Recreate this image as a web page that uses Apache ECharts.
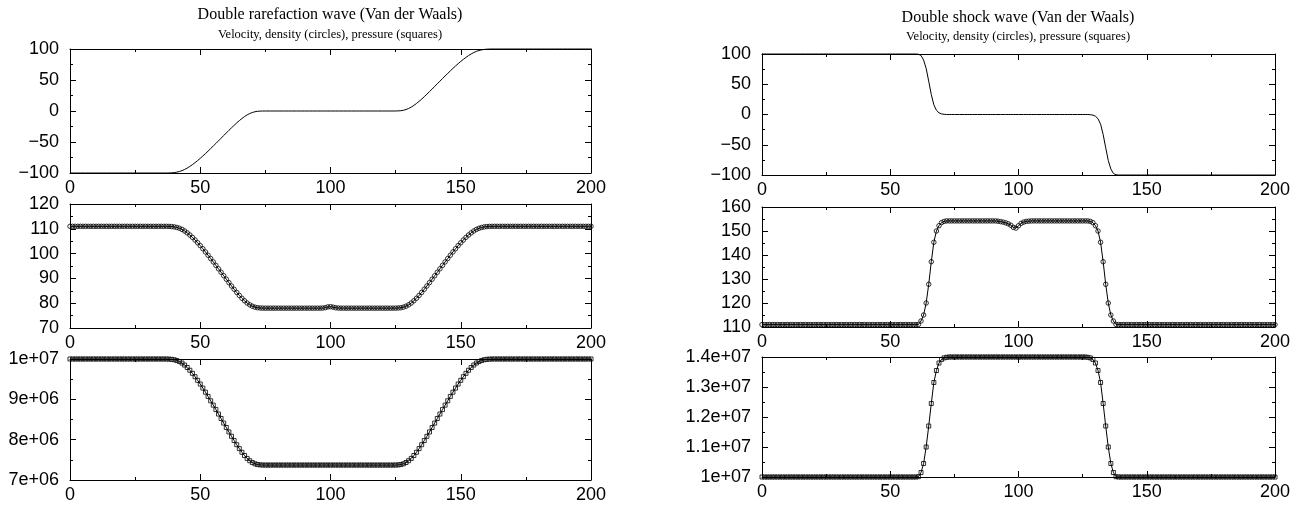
<!DOCTYPE html>
<html>
<head>
<meta charset="utf-8">
<script src="https://cdn.jsdelivr.net/npm/echarts@6/dist/echarts.min.js"></script>
<style>
html,body{margin:0;padding:0;background:#fff;}
#chart{width:1301px;height:508px;}
</style>
</head>
<body>
<div id="chart"></div>
<script>
// ---- Data (values per cell, cells 0..200) ----
// Double rarefaction wave: velocity
const rareVelocity = [
-100,-100,-100,-100,-100,-100,-100,-100,-100,-100,
-100,-100,-100,-100,-100,-100,-100,-100,-100,-100,
-100,-100,-100,-100,-100,-100,-100,-100,-100,-100,
-100,-100,-100,-100,-100,-100,-100,-100,
-99.9,-99.7,-99.3,-98.6,-97.6,-96.2,-94.3,-92,-89.4,-86.5,
-83.3,-79.9,-76.4,-72.6,-68.7,-64.7,-60.6,-56.5,-52.3,-48.1,
-43.9,-39.6,-35.4,-31.2,-27.1,-23.1,-19.2,-15.5,-12.1,-9,
-6.3,-4.1,-2.4,-1.2,-0.5,-0.2,-0.05,
0,0,0,0,0,0,0,0,0,0,
0,0,0,0,0,0,0,0,0,0,
0,0,0,0,0,0,0,0,0,0,
0,0,0,0,0,0,0,0,0,0,
0,0,0,0,0,0,0,0,0,0,
0.05,0.2,0.5,1.2,2.4,4.1,6.3,
9,12.1,15.5,19.2,23.1,27.1,31.2,35.4,39.6,43.9,
48.1,52.3,56.5,60.6,64.7,68.7,72.6,76.4,79.9,83.3,
86.5,89.4,92,94.3,96.2,97.6,98.6,99.3,99.7,99.9,
100,100,100,100,100,100,100,100,100,100,
100,100,100,100,100,100,100,100,100,100,
100,100,100,100,100,100,100,100,100,100,
100,100,100,100,100,100,100,100,100
];
// Double rarefaction wave: density (circles)
const rareDensity = [
111,111,111,111,111,111,111,111,111,111,
111,111,111,111,111,111,111,111,111,111,
111,111,111,111,111,111,111,111,111,111,
111,111,111,111,111,111,111,111,
110.97,110.9,110.77,110.54,110.21,109.75,109.12,108.36,107.5,106.55,
105.49,104.37,103.21,101.96,100.67,99.35,98,96.65,95.26,93.87,
92.49,91.07,89.68,88.3,86.94,85.62,84.34,83.12,81.99,80.97,
80.08,79.35,78.79,78.4,78.17,78.07,78.02,
78,78,78,78,78,78,78,78,78,78,
78,78,78,78,78,78,78,78,78,78,
78,78,
78.05,78.2,78.5,78.6,78.4,78.15,78.05,
78,78,78,78,78,78,78,78,78,78,
78,78,78,78,78,78,78,78,78,78,
78,
78.02,78.07,78.17,78.4,78.79,79.35,80.08,
80.97,81.99,83.12,84.34,85.62,86.94,88.3,89.68,91.07,92.49,
93.87,95.26,96.65,98,99.35,100.67,101.96,103.21,104.37,105.49,
106.55,107.5,108.36,109.12,109.75,110.21,110.54,110.77,110.9,110.97,
111,111,111,111,111,111,111,111,111,111,
111,111,111,111,111,111,111,111,111,111,
111,111,111,111,111,111,111,111,111,111,
111,111,111,111,111,111,111,111,111
];
// Double rarefaction wave: pressure (squares)
const rarePressure = [
1e7,1e7,1e7,1e7,1e7,1e7,1e7,1e7,1e7,1e7,
1e7,1e7,1e7,1e7,1e7,1e7,1e7,1e7,1e7,1e7,
1e7,1e7,1e7,1e7,1e7,1e7,1e7,1e7,1e7,1e7,
1e7,1e7,1e7,1e7,1e7,1e7,1e7,1e7,
9.997e6,9.992e6,9.982e6,9.963e6,9.937e6,9.9e6,9.85e6,9.79e6,9.721e6,9.645e6,
9.561e6,9.471e6,9.379e6,9.279e6,9.177e6,9.072e6,8.964e6,8.856e6,8.746e6,8.635e6,
8.525e6,8.411e6,8.301e6,8.191e6,8.083e6,7.978e6,7.875e6,7.778e6,7.688e6,7.607e6,
7.536e6,7.478e6,7.433e6,7.402e6,7.383e6,7.375e6,7.371e6,
7.37e6,7.37e6,7.37e6,7.37e6,7.37e6,7.37e6,7.37e6,7.37e6,7.37e6,7.37e6,
7.37e6,7.37e6,7.37e6,7.37e6,7.37e6,7.37e6,7.37e6,7.37e6,7.37e6,7.37e6,
7.37e6,7.37e6,7.37e6,7.37e6,7.37e6,7.37e6,7.37e6,7.37e6,7.37e6,7.37e6,
7.37e6,7.37e6,7.37e6,7.37e6,7.37e6,7.37e6,7.37e6,7.37e6,7.37e6,7.37e6,
7.37e6,7.37e6,7.37e6,7.37e6,7.37e6,7.37e6,7.37e6,7.37e6,7.37e6,7.37e6,
7.371e6,7.375e6,7.383e6,7.402e6,7.433e6,7.478e6,7.536e6,
7.607e6,7.688e6,7.778e6,7.875e6,7.978e6,8.083e6,8.191e6,8.301e6,8.411e6,8.525e6,
8.635e6,8.746e6,8.856e6,8.964e6,9.072e6,9.177e6,9.279e6,9.379e6,9.471e6,9.561e6,
9.645e6,9.721e6,9.79e6,9.85e6,9.9e6,9.937e6,9.963e6,9.982e6,9.992e6,9.997e6,
1e7,1e7,1e7,1e7,1e7,1e7,1e7,1e7,1e7,1e7,
1e7,1e7,1e7,1e7,1e7,1e7,1e7,1e7,1e7,1e7,
1e7,1e7,1e7,1e7,1e7,1e7,1e7,1e7,1e7,1e7,
1e7,1e7,1e7,1e7,1e7,1e7,1e7,1e7,1e7
];
// Double shock wave: velocity
const shockVelocity = [
100,100,100,100,100,100,100,100,100,100,
100,100,100,100,100,100,100,100,100,100,
100,100,100,100,100,100,100,100,100,100,
100,100,100,100,100,100,100,100,100,100,
100,100,100,100,100,100,100,100,100,100,
100,100,100,100,100,100,100,100,100,100,
100,
99.6,97.5,90,76,55,33,16,7,2.8,1,0.3,
0,0,0,0,0,0,0,0,0,0,
0,0,0,0,0,0,0,0,0,0,
0,0,0,0,0,0,0,0,0,0,
0,0,0,0,0,0,0,0,0,0,
0,0,0,0,0,0,0,0,0,0,
0,0,0,0,0,0,
-0.3,-1,-2.8,-7,-16,-33,-55,-76,-90,-97.5,-99.6,
-100,-100,-100,-100,-100,-100,-100,-100,-100,-100,
-100,-100,-100,-100,-100,-100,-100,-100,-100,-100,
-100,-100,-100,-100,-100,-100,-100,-100,-100,-100,
-100,-100,-100,-100,-100,-100,-100,-100,-100,-100,
-100,-100,-100,-100,-100,-100,-100,-100,-100,-100,
-100,-100,-100,-100,-100,-100,-100,-100,-100,-100,
-100,-100
];
// Double shock wave: density (circles)
const shockDensity = [
111,111,111,111,111,111,111,111,111,111,
111,111,111,111,111,111,111,111,111,111,
111,111,111,111,111,111,111,111,111,111,
111,111,111,111,111,111,111,111,111,111,
111,111,111,111,111,111,111,111,111,111,
111,111,111,111,111,111,111,111,111,111,
111,
111.1,112.5,115,120,127.8,137.2,145.3,150,152.2,153.5,154,
154.2,154.2,154.2,154.2,154.2,154.2,154.2,154.2,154.2,154.2,
154.2,154.2,154.2,154.2,154.2,154.2,154.2,154.2,154.2,154.2,
154.1,153.9,153.7,153.4,153,152.4,151.5,151.2,152.2,153.2,153.7,154,154.1,
154.2,154.2,154.2,154.2,154.2,154.2,154.2,154.2,154.2,154.2,
154.2,154.2,154.2,154.2,154.2,154.2,154.2,154.2,154.2,154.2,
154.2,154.2,154.2,
154,153.5,152.2,150,145.3,137.2,127.8,120,115,112.5,111.1,
111,111,111,111,111,111,111,111,111,111,
111,111,111,111,111,111,111,111,111,111,
111,111,111,111,111,111,111,111,111,111,
111,111,111,111,111,111,111,111,111,111,
111,111,111,111,111,111,111,111,111,111,
111,111,111,111,111,111,111,111,111,111,
111,111
];
// Double shock wave: pressure (squares)
const shockPressure = [
1e7,1e7,1e7,1e7,1e7,1e7,1e7,1e7,1e7,1e7,
1e7,1e7,1e7,1e7,1e7,1e7,1e7,1e7,1e7,1e7,
1e7,1e7,1e7,1e7,1e7,1e7,1e7,1e7,1e7,1e7,
1e7,1e7,1e7,1e7,1e7,1e7,1e7,1e7,1e7,1e7,
1e7,1e7,1e7,1e7,1e7,1e7,1e7,1e7,1e7,1e7,
1e7,1e7,1e7,1e7,1e7,1e7,1e7,1e7,1e7,1e7,
1e7,
1.001e7,1.015e7,1.045e7,1.1e7,1.17e7,1.245e7,1.315e7,1.355e7,1.38e7,1.392e7,1.397e7,1.399e7,
1.4e7,1.4e7,1.4e7,1.4e7,1.4e7,1.4e7,1.4e7,1.4e7,1.4e7,1.4e7,
1.4e7,1.4e7,1.4e7,1.4e7,1.4e7,1.4e7,1.4e7,1.4e7,1.4e7,1.4e7,
1.4e7,1.4e7,1.4e7,1.4e7,1.4e7,1.4e7,1.4e7,1.4e7,1.4e7,1.4e7,
1.4e7,1.4e7,1.4e7,1.4e7,1.4e7,1.4e7,1.4e7,1.4e7,1.4e7,1.4e7,
1.4e7,1.4e7,1.4e7,1.4e7,1.4e7,1.4e7,1.4e7,1.4e7,1.4e7,1.4e7,
1.4e7,1.4e7,1.4e7,1.4e7,
1.399e7,1.397e7,1.392e7,1.38e7,1.355e7,1.315e7,1.245e7,1.17e7,1.1e7,1.045e7,1.015e7,1.001e7,
1e7,1e7,1e7,1e7,1e7,1e7,1e7,1e7,1e7,1e7,
1e7,1e7,1e7,1e7,1e7,1e7,1e7,1e7,1e7,1e7,
1e7,1e7,1e7,1e7,1e7,1e7,1e7,1e7,1e7,1e7,
1e7,1e7,1e7,1e7,1e7,1e7,1e7,1e7,1e7,1e7,
1e7,1e7,1e7,1e7,1e7,1e7,1e7,1e7,1e7,1e7,
1e7,1e7,1e7,1e7,1e7,1e7,1e7,1e7,1e7,1e7,
1e7,1e7
];
// Axis ranges / ticks
const xRange = [0, 200, 50];
const velRange = [-100, 100, 50];
const rareDensRange = [70, 120, 10];
const rarePresRange = [7e6, 1e7, 1e6];
const shockDensRange = [110, 160, 10];
const shockPresRange = [1e7, 1.4e7, 1e6];
const titles = {
  left: 'Double rarefaction wave (Van der Waals)',
  right: 'Double shock wave (Van der Waals)',
  sub: 'Velocity, density (circles), pressure (squares)'
};

// ---- Build chart ----
const SANS = "'Liberation Sans', Arial, Helvetica, sans-serif";
const SERIF = "'Liberation Serif', 'Times New Roman', serif";

function fmtPlain(v){ return String(v).replace('-', '\u2212'); }
function fmtExp(v){
  const s = Number(v).toExponential();
  return s.replace(/e([+-])(\d+)$/, function(m, sg, d){ return 'e' + sg + (d.length < 2 ? '0' + d : d); });
}

const grids = [
  {left:70, top:49, width:521, height:124},
  {left:70, top:204, width:521, height:124},
  {left:70, top:359, width:521, height:121},
  {left:762, top:54, width:513, height:121},
  {left:762, top:207, width:513, height:120},
  {left:762, top:357, width:513, height:120}
];

const xAxes = [], yAxes = [], series = [];
const lineCol = '#000';

function addPanel(gi, yr, fmt){
  const common = {
    type:'value', gridIndex:gi,
    axisLine:{show:true, onZero:false, lineStyle:{color:lineCol, width:1}},
    axisTick:{show:true, inside:true, length:6, lineStyle:{color:lineCol, width:1}},
    minorTick:{show:true, splitNumber:2, length:3, lineStyle:{color:lineCol, width:1}},
    splitLine:{show:false}, minorSplitLine:{show:false}
  };
  xAxes.push(Object.assign({}, common, {
    position:'bottom', min:xRange[0], max:xRange[1], interval:xRange[2],
    axisLabel:{show:true, margin:6, color:'#000', fontSize:18, fontFamily:SANS, showMinLabel:true, showMaxLabel:true}
  }));
  xAxes.push(Object.assign({}, common, {
    position:'top', min:xRange[0], max:xRange[1], interval:xRange[2],
    axisLabel:{show:false}
  }));
  yAxes.push(Object.assign({}, common, {
    position:'left', min:yr[0], max:yr[1], interval:yr[2],
    axisLabel:{show:true, margin:11, color:'#000', fontSize:18, fontFamily:SANS, formatter:fmt, showMinLabel:true, showMaxLabel:true}
  }));
  yAxes.push(Object.assign({}, common, {
    position:'right', min:yr[0], max:yr[1], interval:yr[2],
    axisLabel:{show:false}
  }));
}

function addSeries(gi, values, symbol, size){
  const data = values.map(function(v, i){ return [i, v]; });
  const s = {
    type:'line', xAxisIndex:gi*2, yAxisIndex:gi*2, data:data,
    lineStyle:{color:'#000', width:1},
    clip:false, silent:true, animation:false, showAllSymbol:true
  };
  if (symbol === 'none') {
    s.symbol = 'none';
  } else {
    s.symbol = symbol;
    s.symbolSize = size;
    s.itemStyle = {color:'rgba(0,0,0,0)', borderColor:'#000', borderWidth:0.8};
  }
  series.push(s);
}

addPanel(0, velRange, fmtPlain);
addPanel(1, rareDensRange, fmtPlain);
addPanel(2, rarePresRange, fmtExp);
addPanel(3, velRange, fmtPlain);
addPanel(4, shockDensRange, fmtPlain);
addPanel(5, shockPresRange, fmtExp);

addSeries(0, rareVelocity, 'none');
addSeries(1, rareDensity, 'circle', 4.5);
addSeries(2, rarePressure, 'rect', 4);
addSeries(3, shockVelocity, 'none');
addSeries(4, shockDensity, 'circle', 4.5);
addSeries(5, shockPressure, 'rect', 4);

const graphics = [
  {type:'text', x:330, y:15, style:{text:titles.left, font:'16px ' + SERIF, fill:'#000', textAlign:'center', textVerticalAlign:'middle'}},
  {type:'text', x:330, y:35, style:{text:titles.sub, font:'12.5px ' + SERIF, fill:'#000', textAlign:'center', textVerticalAlign:'middle'}},
  {type:'text', x:1018, y:18, style:{text:titles.right, font:'16px ' + SERIF, fill:'#000', textAlign:'center', textVerticalAlign:'middle'}},
  {type:'text', x:1018, y:37, style:{text:titles.sub, font:'12.5px ' + SERIF, fill:'#000', textAlign:'center', textVerticalAlign:'middle'}}
];

const chart = echarts.init(document.getElementById('chart'), null, {renderer:'canvas'});
chart.setOption({
  backgroundColor:'#fff',
  animation:false,
  grid:grids,
  xAxis:xAxes,
  yAxis:yAxes,
  series:series,
  graphic:graphics
});
</script>
</body>
</html>
